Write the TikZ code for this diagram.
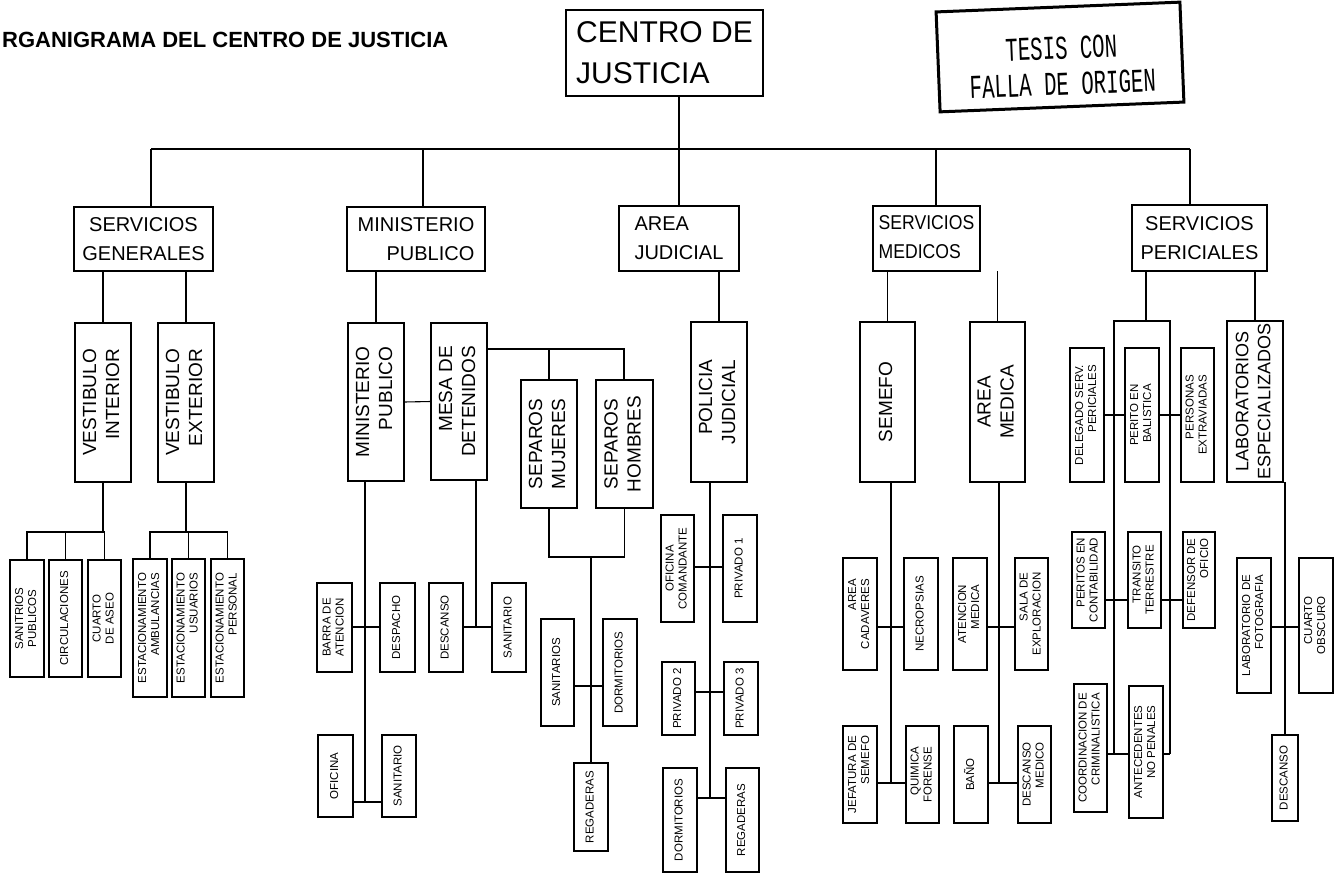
\documentclass[tikz,border=0pt]{standalone}
\usepackage{fontspec}
\usepackage{graphicx}
\setmainfont{Liberation Sans}
\newfontfamily\tesisfont{Liberation Mono}
\newcommand\vt[2][c]{\rotatebox{90}{\begin{tabular}{@{}#1@{}}#2\end{tabular}}}
\newcommand\bxat[7][]{\node[bx,#1,minimum width={(#5-#3)*1pt},minimum height={(#6-#4)*1pt}] (#2) at ({(#3+#5)/2},{(#4+#6)/2}) {#7};}
\tikzset{
  bx/.style={draw, line width=1.2pt, inner sep=0pt, outer sep=0pt, align=center},
  ln/.style={line width=1.1pt},
  fcj/.style={font=\fontsize{30}{41}\selectfont},
  fa/.style={font=\fontsize{20}{29}\selectfont},
  fb/.style={font=\fontsize{19}{23}\selectfont},
  fc/.style={font=\fontsize{11.5}{13}\selectfont},
}
\begin{document}
\begin{tikzpicture}[x=1pt,y=-1pt]
\fill[white] (0,0) rectangle (1335,875);
\useasboundingbox (0,0) rectangle (1335,875);

% title and stamp
\node[anchor=base west, inner sep=0pt, font=\bfseries\fontsize{22}{26}\selectfont] (title) at (2,48) {RGANIGRAMA DEL CENTRO DE JUSTICIA};
\node[draw, line width=3pt, rotate=2.3, minimum width=244pt, minimum height=100pt, inner sep=0pt] (tesis) at (1060,57) {};
\node[rotate=2.3, inner sep=0pt, align=center, font=\tesisfont\fontsize{23}{36}\selectfont] (tesist) at (1062,66) {\scalebox{0.9}[1.45]{TESIS CON}\\\scalebox{0.9}[1.45]{FALLA DE ORIGEN}};

% root
\bxat[fcj,align=left]{cj}{566}{10}{763}{96}{CENTRO DE\\JUSTICIA}

% level 1
\bxat[fa]{sg}{74}{207}{213}{271}{SERVICIOS\\GENERALES}
\bxat[fa,align=right]{mp}{347}{207}{485}{271}{MINISTERIO\\PUBLICO}
\bxat[fa,align=left]{aj}{619}{206}{739}{271}{AREA\\JUDICIAL}
\bxat[fa]{sm}{873}{206}{980}{271}{\scalebox{0.88}[1]{\begin{tabular}{@{}l@{}}SERVICIOS\\MEDICOS\end{tabular}}}
\bxat[fa]{sp}{1132}{205}{1267}{271}{SERVICIOS\\PERICIALES}

% bus
\coordinate (d1) at (151,149);
\coordinate (d2) at (423,149);
\coordinate (d3) at (679,149);
\coordinate (d4) at (936,149);
\coordinate (d5) at (1190,149);
\draw[ln] (d1) -- (d5);
\draw[ln] (cj.south -| d3) -- (d3) -- (d3 |- aj.north);
\draw[ln] (d1) -- (d1 |- sg.north);
\draw[ln] (d2) -- (d2 |- mp.north);
\draw[ln] (d4) -- (d4 |- sm.north);
\draw[ln] (d5) -- (d5 |- sp.north);

% level 2
\bxat[fb]{vi}{75}{323}{131}{482}{\vt[r]{VESTIBULO\\INTERIOR}}
\bxat[fb]{ve}{158}{323}{214}{482}{\vt[r]{VESTIBULO\\EXTERIOR}}
\bxat[fb]{mpv}{348}{323}{404}{481}{\vt[r]{MINISTERIO\\PUBLICO}}
\bxat[fb]{md}{431}{323}{487}{480}{\vt[r]{MESA DE\\DETENIDOS}}
\bxat[fb]{smj}{521}{380}{577}{508}{\vt{SEPAROS\\MUJERES}}
\bxat[fb]{sho}{596}{380}{653}{508}{\vt{SEPAROS\\HOMBRES}}
\bxat[fb]{pj}{691}{322}{747}{482}{\vt[r]{POLICIA\\JUDICIAL}}
\bxat[fb]{se}{860}{322}{915}{482}{\vt{SEMEFO}}
\bxat[fb]{am}{970}{322}{1025}{482}{\vt{AREA\\MEDICA}}
\bxat[fb,font=\fontsize{18}{22}\selectfont]{le}{1227}{321}{1283}{482}{\vt{LABORATORIOS\\ESPECIALIZADOS}}

% level 3 - servicios generales
\bxat[fc]{sanp}{10}{560}{44}{677}{\vt{SANITRIOS\\PUBLICOS}}
\bxat[fc]{circ}{49}{560}{82}{677}{\vt{CIRCULACIONES}}
\bxat[fc]{cuar}{88}{560}{121}{677}{\vt{CUARTO\\DE ASEO}}
\bxat[fc]{eamb}{133}{559}{167}{697}{\vt[r]{ESTACIONAMIENTO\\AMBULANCIAS}}
\bxat[fc]{eusu}{172}{559}{205}{697}{\vt[r]{ESTACIONAMIENTO\\USUARIOS}}
\bxat[fc]{eper}{211}{559}{244}{697}{\vt[r]{ESTACIONAMIENTO\\PERSONAL}}

% ministerio publico
\bxat[fc]{barra}{317}{583}{352}{672}{\vt{BARRA DE\\ATENCION}}
\bxat[fc]{desp}{380}{583}{415}{672}{\vt{DESPACHO}}
\bxat[fc]{desc}{429}{583}{463}{672}{\vt{DESCANSO}}
\bxat[fc]{sanit2}{492}{583}{526}{672}{\vt{SANITARIO}}
\bxat[fc]{ofi}{318}{735}{353}{817}{\vt{OFICINA}}
\bxat[fc]{sanit1}{382}{735}{416}{817}{\vt{SANITARIO}}
\bxat[fc]{sant}{541}{619}{574}{726}{\vt{SANITARIOS}}
\bxat[fc]{dorm1}{603}{619}{637}{726}{\vt{DORMITORIOS}}
\bxat[fc]{reg1}{574}{763}{608}{851}{\vt{REGADERAS}}

% policia judicial
\bxat[fc]{ofc}{661}{515}{694}{622}{\vt{OFICINA\\COMANDANTE}}
\bxat[fc]{pr1}{723}{515}{757}{622}{\vt{PRIVADO 1}}
\bxat[fc]{pr2}{662}{662}{695}{735}{\vt{PRIVADO 2}}
\bxat[fc]{pr3}{724}{662}{758}{735}{\vt{PRIVADO 3}}
\bxat[fc]{dorm2}{663}{768}{697}{872}{\vt{DORMITORIOS}}
\bxat[fc]{reg2}{726}{768}{759}{872}{\vt{REGADERAS}}

% servicios medicos
\bxat[fc]{acad}{843}{558}{877}{670}{\vt[r]{AREA\\CADAVERES}}
\bxat[fc]{necr}{904}{558}{938}{670}{\vt{NECROPSIAS}}
\bxat[fc]{jef}{843}{726}{877}{823}{\vt[r]{JEFATURA DE\\SEMEFO}}
\bxat[fc]{quim}{906}{726}{939}{823}{\vt[r]{QUIMICA\\FORENSE}}
\bxat[fc]{aten}{953}{558}{987}{670}{\vt[r]{ATENCION\\MEDICA}}
\bxat[fc]{sala}{1015}{558}{1048}{670}{\vt[r]{SALA DE\\EXPLORACION}}
\bxat[fc]{bano}{954}{726}{988}{823}{\vt{BAÑO}}
\bxat[fc]{descm}{1018}{726}{1051}{823}{\vt[r]{DESCANSO\\MEDICO}}

% servicios periciales
\bxat[fc]{deleg}{1070}{348}{1104}{482}{\vt[r]{DELEGADO SERV.\\PERICIALES}}
\bxat[fc]{perb}{1125}{348}{1159}{482}{\vt[r]{PERITO EN\\BALISTICA}}
\bxat[fc]{pers}{1181}{348}{1214}{482}{\vt[r]{PERSONAS\\EXTRAVIADAS}}
\bxat[fc]{perc}{1072}{532}{1105}{628}{\vt[r]{PERITOS EN\\CONTABILIDAD}}
\bxat[fc]{trans}{1128}{532}{1161}{628}{\vt[r]{TRANSITO\\TERRESTRE}}
\bxat[fc]{def}{1183}{532}{1215}{628}{\vt[r]{DEFENSOR DE\\OFICIO}}
\bxat[fc]{coord}{1074}{684}{1107}{812}{\vt[r]{COORDINACION DE\\CRIMINALISTICA}}
\bxat[fc]{ante}{1129}{686}{1163}{818}{\vt[r]{ANTECEDENTES\\NO PENALES}}
\bxat[fc]{labf}{1237}{558}{1271}{693}{\vt[r]{LABORATORIO DE\\FOTOGRAFIA}}
\bxat[fc]{cuob}{1299}{558}{1333}{693}{\vt[r]{CUARTO\\OBSCURO}}
\bxat[fc]{desc3}{1272}{735}{1298}{821}{\vt{DESCANSO}}

% connectors: servicios generales
\draw[ln] (vi.north) -- (vi.north |- sg.south);
\draw[ln] (ve.north) -- (ve.north |- sg.south);
\coordinate (g1) at (104,532);
\coordinate (g2) at (187,532);
\draw[ln] (vi.south) -- (vi.south |- g1);
\draw[ln] (sanp.north) -- (sanp.north |- g1) -- (cuar.north |- g1) -- (cuar.north);
\draw[ln] (circ.north) -- (circ.north |- g1);
\draw[ln] (ve.south) -- (ve.south |- g2);
\draw[ln] (eamb.north) -- (eamb.north |- g2) -- (eper.north |- g2) -- (eper.north);
\draw[ln] (eusu.north) -- (eusu.north |- g2);

% connectors: ministerio publico
\draw[ln] (mpv.north) -- (mpv.north |- mp.south);
\draw[ln] (mpv.east) -- (md.west);
\coordinate (mv) at (365,802);
\coordinate (mv1) at (365,627);
\draw[ln] (mpv.south -| mv) -- (mv);
\draw[ln] (barra.east |- mv1) -- (desp.west |- mv1);
\draw[ln] (ofi.east |- mv) -- (sanit1.west |- mv);
\coordinate (mdv) at (476,627);
\draw[ln] (md.south -| mdv) -- (mdv);
\draw[ln] (desc.east |- mdv) -- (sanit2.west |- mdv);
\coordinate (s1) at (624,349);
\draw[ln] (md.east |- s1) -- (s1) -- (s1 |- sho.north);
\draw[ln] (smj.north) -- (smj.north |- s1);
\coordinate (s2) at (591,557);
\coordinate (s3) at (591,686);
\draw[ln] (smj.south) -- (smj.south |- s2) -- (sho.south |- s2) -- (sho.south);
\draw[ln] (s2) -- (s2 |- reg1.north);
\draw[ln] (sant.east |- s3) -- (dorm1.west |- s3);

% connectors: area judicial
\draw[ln] (pj.north) -- (pj.north |- aj.south);
\coordinate (pv) at (710,798);
\coordinate (pv1) at (710,567);
\coordinate (pv2) at (710,692);
\draw[ln] (pj.south -| pv) -- (pv);
\draw[ln] (ofc.east |- pv1) -- (pr1.west |- pv1);
\draw[ln] (pr2.east |- pv2) -- (pr3.west |- pv2);
\draw[ln] (dorm2.east |- pv) -- (reg2.west |- pv);

% connectors: servicios medicos
\draw[ln] (se.north) -- (se.north |- sm.south);
\draw[ln] (am.north) -- (am.north |- sm.south);
\coordinate (sv) at (891,783);
\coordinate (sv1) at (891,627);
\draw[ln] (se.south -| sv) -- (sv);
\draw[ln] (acad.east |- sv1) -- (necr.west |- sv1);
\draw[ln] (jef.east |- sv) -- (quim.west |- sv);
\coordinate (av) at (999,783);
\coordinate (av1) at (999,627);
\draw[ln] (am.south -| av) -- (av);
\draw[ln] (aten.east |- av1) -- (sala.west |- av1);
\draw[ln] (bano.east |- av) -- (descm.west |- av);

% connectors: servicios periciales
\coordinate (u1) at (1114,321);
\coordinate (u2) at (1170,321);
\coordinate (u3) at (1146,321);
\coordinate (u4) at (1114,754);
\coordinate (u5) at (1170,754);
\coordinate (u6) at (1114,600);
\draw[ln] (u3 |- sp.south) -- (u3);
\draw[ln] (le.north) -- (le.north |- sp.south);
\draw[ln] (u4) -- (u1) -- (u2) -- (u5);
\draw[ln] (deleg.east) -- (perb.west);
\draw[ln] (perb.east) -- (pers.west);
\draw[ln] (perc.east |- u6) -- (trans.west |- u6);
\draw[ln] (trans.east |- u6) -- (def.west |- u6);
\draw[ln] (coord.east |- u4) -- (ante.west |- u4);
\draw[ln] (ante.east |- u5) -- (u5);
\coordinate (lv) at (1285,627);
\draw[ln] (le.south -| desc3.north) -- (desc3.north);
\draw[ln] (labf.east |- lv) -- (cuob.west |- lv);
\end{tikzpicture}
\end{document}
